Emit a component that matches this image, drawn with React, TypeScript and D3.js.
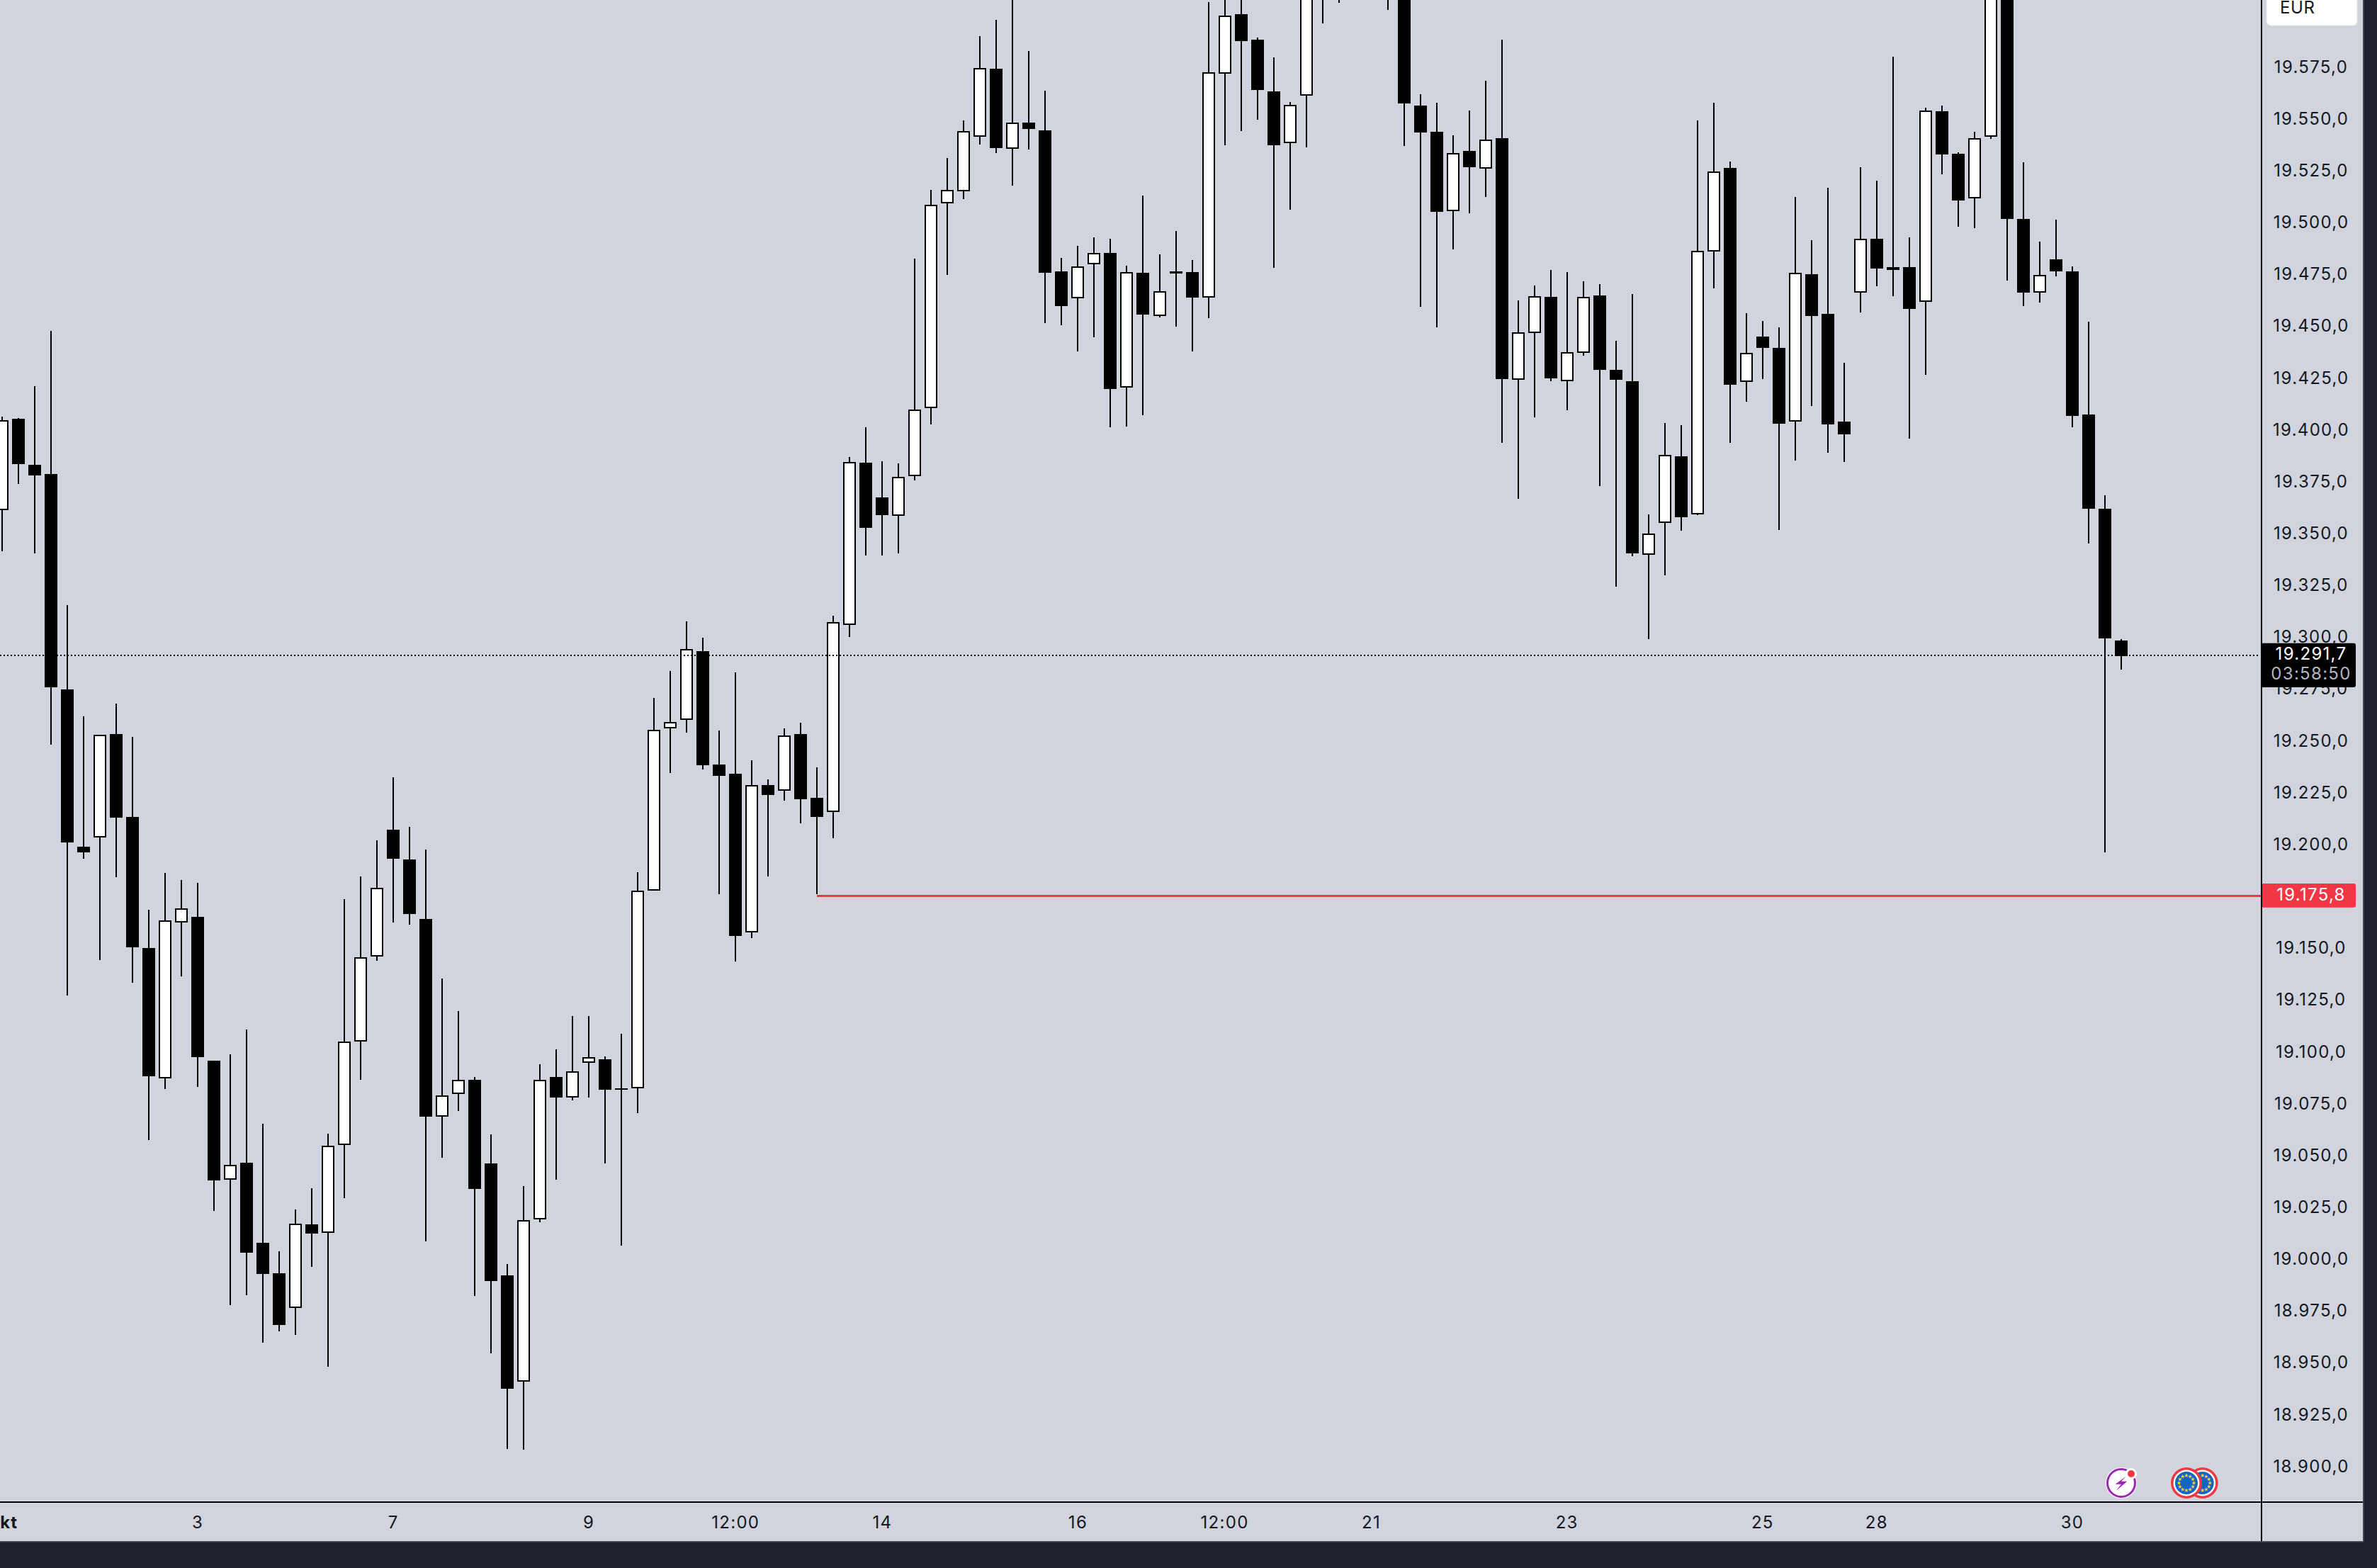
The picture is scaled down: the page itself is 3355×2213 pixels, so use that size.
import React from "react";
import * as d3 from "d3";

// Daily-style candles, left to right. Prices in EUR index points. Bars above the top edge are estimates.
const highs = [
19406.1,19405.5,19420.8,19447.5,19315.2,19261.6,19252.7,19267.7,19251.7,19168.3,
19186.1,19182.6,19181.3,19095.5,19098.6,19110.5,19065.1,19003.6,19023.7,19034.0,
19060.3,19173.4,19184.3,19201.8,19232.2,19208.3,19197.3,19135.1,19119.4,19087.6,
19059.9,18997.4,19035.0,19093.8,19101.0,19117.0,19117.0,19097.5,19108.5,19186.4,
19270.5,19283.5,19307.4,19299.5,19254.8,19282.8,19240.4,19231.2,19255.8,19258.5,
19237.0,19310.1,19386.7,19401.0,19384.6,19383.6,19482.4,19515.5,19530.9,19549.0,
19589.7,19597.5,19615.0,19582.5,19563.4,19482.7,19488.5,19492.6,19491.9,19478.9,
19512.8,19484.4,19495.7,19481.7,19606.1,19620.0,19625.0,19589.0,19579.4,19557.9,
19650.0,19660.0,19650.0,19650.0,19670.0,19680.0,19690.0,19561.6,19557.5,19541.8,
19553.8,19568.1,19588.0,19462.2,19469.4,19476.9,19475.9,19471.4,19470.1,19442.7,
19465.3,19359.2,19403.1,19402.0,19549.0,19557.5,19529.2,19456.0,19452.3,19449.2,
19512.1,19491.2,19516.5,19432.1,19526.4,19520.0,19579.8,19492.6,19555.2,19556.2,
19533.6,19543.7,19640.0,19640.0,19528.8,19490.6,19501.2,19478.6,19451.9,19368.2,
19298.8];
const lows = [
19341.2,19373.7,19340.2,19247.9,19126.9,19192.9,19144.0,19184.0,19133.1,19057.2,
19081.8,19136.2,19082.8,19023.0,18977.6,18982.4,18959.5,18964.9,18963.2,18996.0,
18947.8,19029.2,19086.3,19143.7,19162.1,19161.1,19008.3,19048.7,19071.2,18982.0,
18954.3,18908.2,18907.9,19017.6,19038.1,19076.3,19077.7,19045.9,19006.3,19070.2,
19177.5,19234.2,19253.7,19236.0,19175.8,19143.3,19154.6,19184.3,19220.9,19210.0,
19175.8,19202.8,19299.9,19339.2,19339.2,19340.2,19375.4,19402.4,19474.5,19511.1,
19537.4,19533.3,19517.6,19535.0,19451.3,19450.4,19437.6,19444.6,19401.0,19401.5,
19406.8,19454.0,19449.5,19437.6,19453.6,19537.0,19544.0,19549.3,19477.9,19505.9,
19536.0,19595.8,19605.7,19615.0,19620.0,19602.3,19536.9,19459.1,19449.2,19487.0,
19504.2,19512.1,19393.5,19366.5,19406.0,19423.4,19409.2,19435.5,19372.8,19324.1,
19338.8,19298.8,19329.8,19351.3,19358.6,19468.0,19393.5,19413.3,19424.4,19351.5,
19385.0,19411.3,19388.7,19384.4,19456.6,19469.2,19464.4,19395.6,19426.3,19523.0,
19497.7,19497.1,19540.1,19471.8,19459.5,19461.2,19473.8,19401.0,19345.0,19196.0,
19284.3];
const opens = [
19361.0,19405.1,19382.9,19378.5,19274.6,19198.7,19203.1,19253.0,19213.0,19149.8,
19086.9,19162.1,19164.9,19095.5,19038.1,19046.3,19007.7,18993.0,18976.2,19016.5,
19012.4,19054.8,19104.7,19145.7,19206.9,19192.5,19163.8,19068.5,19079.4,19086.3,
19045.9,18991.9,18940.7,19018.9,19087.6,19077.7,19094.5,19096.2,19082.2,19082.2,
19177.5,19255.8,19259.9,19293.0,19238.3,19233.9,19157.3,19228.4,19225.7,19253.0,
19222.3,19215.4,19305.7,19383.9,19367.2,19358.3,19377.4,19410.2,19509.0,19514.8,
19541.1,19574.0,19535.3,19548.0,19544.2,19476.2,19463.2,19479.6,19485.1,19420.2,
19475.5,19454.7,19476.2,19475.9,19463.6,19571.6,19600.3,19588.0,19563.0,19538.1,
19561.0,19640.0,19635.0,19640.0,19650.0,19660.0,19660.0,19556.2,19543.5,19505.4,
19534.3,19525.8,19540.5,19423.9,19446.5,19463.9,19423.4,19437.1,19464.6,19428.7,
19423.2,19339.7,19354.9,19387.0,19359.0,19485.8,19526.1,19422.9,19444.8,19439.3,
19403.9,19474.8,19455.7,19403.8,19466.0,19491.9,19477.0,19478.3,19461.5,19553.4,
19532.9,19511.4,19541.3,19625.0,19501.5,19466.0,19482.0,19476.2,19407.2,19361.7,
19298.2];
const closes = [
19404.4,19383.3,19377.8,19275.6,19200.7,19196.0,19252.7,19212.7,19150.2,19088.0,
19163.2,19169.0,19097.2,19037.7,19045.3,19002.9,18992.6,18968.0,19016.9,19012.1,
19054.5,19104.7,19145.4,19178.9,19192.9,19166.2,19068.5,19078.7,19086.3,19033.6,
18989.2,18937.3,19018.6,19086.3,19077.7,19090.4,19097.2,19081.5,19081.8,19177.5,
19255.1,19258.9,19294.1,19238.0,19232.9,19155.6,19228.4,19223.6,19252.3,19221.6,
19213.0,19307.0,19384.3,19352.5,19358.6,19377.1,19409.6,19508.3,19515.5,19544.0,
19574.3,19535.8,19548.1,19544.9,19475.5,19459.5,19478.6,19485.3,19419.6,19475.9,
19455.4,19466.8,19475.2,19463.6,19572.2,19599.6,19587.3,19563.9,19537.0,19556.5,
19640.0,19625.0,19625.0,19630.0,19635.0,19635.0,19557.4,19543.2,19504.9,19533.3,
19526.4,19539.8,19424.4,19447.0,19464.4,19424.6,19437.2,19463.9,19428.7,19423.9,
19340.2,19349.8,19387.7,19357.6,19486.1,19524.4,19421.7,19437.1,19439.3,19402.9,
19475.5,19454.9,19402.4,19397.6,19491.9,19477.6,19478.3,19458.1,19553.9,19532.8,
19510.6,19540.6,19625.0,19501.6,19466.1,19474.5,19476.2,19406.5,19361.9,19299.2,
19290.8];

const priceTicks = [
19575,19550,19525,19500,19475,19450,19425,19400,19375,19350,19325,19300,19275,19250,
19225,19200,19175,19150,19125,19100,19075,19050,19025,19000,18975,18950,18925,18900];
const timeLabels = ["Okt","3","7","9","12:00","14","16","12:00","21","23","25","28","30"];
const timeSlots = [0,12,24,36,45,54,66,75,84,96,108,115,127];
const lastPrice = 19291.7;
const lastCountdown = "03:58:50";
const lineLevel = 19175.8;
const lineStartSlot = 50;
const currency = "EUR";

const W = 3355, H = 2213, PLOT_R = 3192, PLOT_B = 2120, PANEL_R = 3335, PANEL_B = 2175;
const BG = "#d1d4dc", DARK = "#1e222d", INK = "#131722", RED = "#f23645";
const FONT = "Inter, 'Noto Sans', sans-serif";
const LINE_NUDGE = 1.7; // TradingView draws price lines slightly below the tick-label centre

const xScale = d3.scaleLinear().domain([0, 130]).range([2.9, 2994]);
const yScale = d3.scaleLinear().domain([18900, 19575]).range([2069.2, 94.2]);
const fmt = d3.formatLocale({ decimal: ",", thousands: ".", grouping: [3], currency: ["", "€"] }).format(",.1f");

const star = d3.symbol().type(d3.symbolStar).size(11)();

function EuBadge({ cx, cy }: { cx: number; cy: number }) {
  return (
    <g transform={`translate(${cx},${cy})`}>
      <circle r={22} fill={RED} />
      <circle r={18.5} fill="#ffffff" />
      <circle r={16} fill="#1565c0" />
      {d3.range(12).map((k) => {
        const a = (k / 12) * 2 * Math.PI;
        return <path key={k} d={star as string} fill="#fdd835" transform={`translate(${10.5 * Math.sin(a)},${-10.5 * Math.cos(a)})`} />;
      })}
    </g>
  );
}

export default function App() {
  const last = Math.round(yScale(lastPrice) + LINE_NUDGE);
  const level = Math.round(yScale(lineLevel) + LINE_NUDGE);
  const textStyle = { fontFamily: FONT, fontSize: 24, letterSpacing: 1.3 } as React.CSSProperties;
  return (
    <svg width={W} height={H} viewBox={`0 0 ${W} ${H}`} style={{ position: "absolute", left: 0, top: 0, display: "block" }}>
      <defs>
        <clipPath id="plot"><rect x={0} y={0} width={PLOT_R - 1} height={PLOT_B - 1} /></clipPath>
      </defs>
      <rect width={W} height={H} fill={DARK} />
      <rect width={PANEL_R} height={PANEL_B} fill={BG} />
      <rect x={PANEL_R} y={0} width={1.5} height={PANEL_B + 1.5} fill="#50535e" />
      <rect x={0} y={PANEL_B} width={PANEL_R} height={1.5} fill="#50535e" />

      <g style={textStyle} fill={INK} textAnchor="middle" dominantBaseline="central">
        {priceTicks.map((t) => (
          <text key={t} x={3262} y={yScale(t)}>{fmt(t)}</text>
        ))}
        {timeLabels.map((l, i) => (
          <text key={i} x={xScale(timeSlots[i])} y={2148} fontWeight={l === "Okt" ? 700 : 400}>{l}</text>
        ))}
      </g>

      <g clipPath="url(#plot)">
        {highs.map((h, i) => {
          const cx = Math.round(xScale(i));
          const up = closes[i] > opens[i];
          const top = yScale(Math.max(opens[i], closes[i]));
          const bot = yScale(Math.min(opens[i], closes[i]));
          return (
            <g key={i} shapeRendering="crispEdges">
              <rect x={cx - 1} y={yScale(h)} width={2} height={yScale(lows[i]) - yScale(h)} fill="#000" />
              {up ? (
                <rect x={cx - 8} y={top + 1} width={16} height={Math.max(bot - top - 2, 1)} fill="#fff" stroke="#000" strokeWidth={2} />
              ) : (
                <rect x={cx - 9} y={top} width={18} height={Math.max(bot - top, 2)} fill="#000" />
              )}
            </g>
          );
        })}
        <line x1={0} x2={PLOT_R - 4} y1={last} y2={last} stroke="#000" strokeWidth={2} strokeDasharray="2 3" shapeRendering="crispEdges" />
        <line x1={xScale(lineStartSlot)} x2={PLOT_R} y1={level} y2={level} stroke={RED} strokeWidth={3} shapeRendering="crispEdges" />

        <g transform="translate(2994,2093)">
          <circle r={22} fill="#fff" />
          <circle r={19.5} fill="none" stroke="#9c27b0" strokeWidth={3} />
          <path d="M6.7,-9.3 L-8.3,1.7 L0,1.7 L-7,10.7 L8.3,-2.3 L0,-2.3 Z" fill="#9c27b0" />
          <circle cx={14} cy={-13} r={8} fill="#fff" />
          <circle cx={14} cy={-13} r={5} fill={RED} />
        </g>
        <EuBadge cx={3108.7} cy={2093} />
        <EuBadge cx={3086} cy={2093} />
      </g>

      <rect x={PLOT_R - 1} y={0} width={2} height={PANEL_B} fill="#000" />
      <rect x={0} y={PLOT_B - 1} width={PANEL_R} height={2} fill="#000" />

      <path d="M3199,-8 H3327 V30 a6,6 0 0 1 -6,6 H3205 a6,6 0 0 1 -6,-6 Z" fill="#fff" stroke="#e4e6eb" strokeWidth={1} />
      <text x={3218} y={10} fill={INK} dominantBaseline="central" style={{ ...textStyle, letterSpacing: 0.6 }}>{currency}</text>

      <path d="M3192,907.7 H3322 a3,3 0 0 1 3,3 V967 a3,3 0 0 1 -3,3 H3192 Z" fill="#000" />
      <text x={3262} y={922.7} fill="#fff" textAnchor="middle" dominantBaseline="central" style={textStyle}>{fmt(lastPrice)}</text>
      <text x={3262} y={950.7} fill="#b2b5be" textAnchor="middle" dominantBaseline="central" style={textStyle}>{lastCountdown}</text>

      <path d="M3193,1247 H3322 a3,3 0 0 1 3,3 V1277.7 a3,3 0 0 1 -3,3 H3193 Z" fill={RED} />
      <text x={3262} y={1262} fill="#fff" textAnchor="middle" dominantBaseline="central" style={textStyle}>{fmt(lineLevel)}</text>
    </svg>
  );
}
